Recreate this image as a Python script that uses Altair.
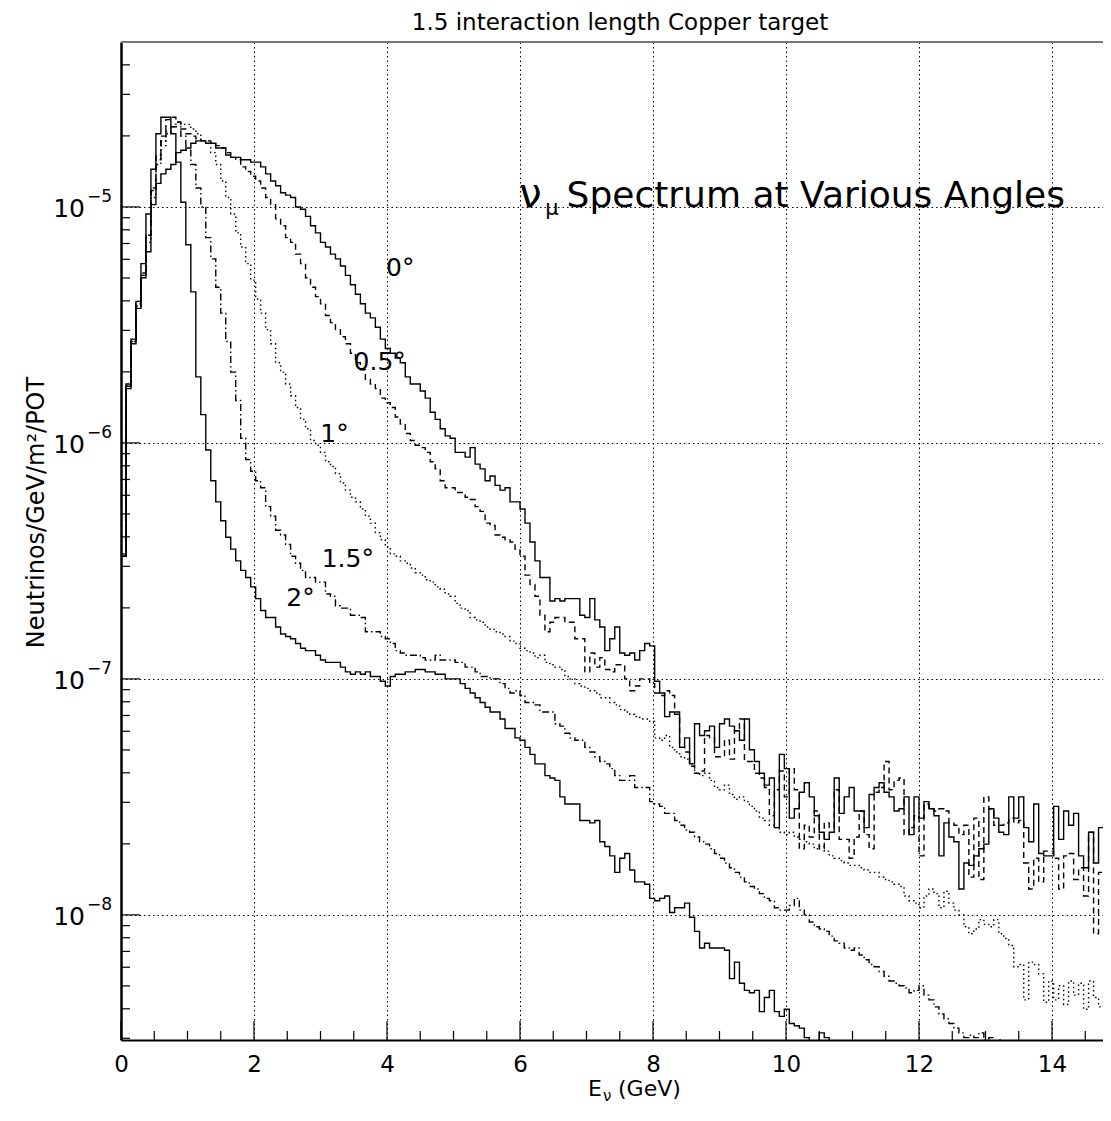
import altair as alt
import pandas as pd

FONT = "DejaVu Sans"
BIN_WIDTH_GEV = 0.075

# log10(neutrinos/GeV/m^2/POT) per 0.075 GeV bin
LOG10_FLUX_0DEG = [
    -6.48, -5.77, -5.58, -5.43, -5.30, -5.19, -4.99, -4.90, -4.86, -4.84,
    -4.82, -4.77, -4.76, -4.75, -4.73, -4.72, -4.72, -4.73, -4.73, -4.75,
    -4.75, -4.78, -4.79, -4.79, -4.80, -4.80, -4.81, -4.81, -4.83, -4.86,
    -4.89, -4.91, -4.94, -4.95, -4.96, -5.00, -5.01, -5.04, -5.08, -5.11,
    -5.15, -5.17, -5.20, -5.22, -5.25, -5.29, -5.33, -5.37, -5.41, -5.45,
    -5.47, -5.51, -5.56, -5.60, -5.62, -5.64, -5.66, -5.72, -5.75, -5.75,
    -5.78, -5.81, -5.87, -5.90, -5.94, -5.97, -5.98, -6.04, -6.04, -6.06,
    -6.02, -6.09, -6.11, -6.16, -6.14, -6.18, -6.20, -6.19, -6.25, -6.25,
    -6.28, -6.34, -6.42, -6.50, -6.57, -6.57, -6.67, -6.66, -6.67, -6.66,
    -6.66, -6.66, -6.73, -6.74, -6.66, -6.75, -6.78, -6.88, -6.83, -6.78,
    -6.89, -6.90, -6.89, -6.92, -6.88, -6.85, -6.86, -7.01, -7.06, -7.16,
    -7.14, -7.15, -7.29, -7.25, -7.36, -7.19, -7.24, -7.22, -7.20, -7.29,
    -7.19, -7.17, -7.20, -7.22, -7.26, -7.17, -7.30, -7.35, -7.40, -7.45,
    -7.42, -7.63, -7.32, -7.38, -7.59, -7.55, -7.48, -7.44, -7.50, -7.58,
    -7.65, -7.68, -7.65, -7.42, -7.57, -7.50, -7.46, -7.56, -7.56, -7.63,
    -7.49, -7.46, -7.44, -7.48, -7.50, -7.56, -7.55, -7.50, -7.66, -7.50,
    -7.59, -7.52, -7.55, -7.58, -7.75, -7.61, -7.67, -7.69, -7.89, -7.78,
    -7.79, -7.75, -7.72, -7.70, -7.55, -7.59, -7.65, -7.66, -7.50, -7.59,
    -7.50, -7.63, -7.69, -7.53, -7.74, -7.75, -7.75, -7.54, -7.68, -7.56,
    -7.62, -7.57, -7.75, -7.80, -7.65, -7.78, -7.63, -7.62, -7.65, -7.60,
]
LOG10_FLUX_05DEG = [
    -6.48, -5.76, -5.57, -5.42, -5.29, -5.12, -4.92, -4.78, -4.70, -4.63,
    -4.62, -4.64, -4.67, -4.69, -4.70, -4.71, -4.72, -4.72, -4.73, -4.74,
    -4.75, -4.77, -4.79, -4.80, -4.83, -4.85, -4.87, -4.89, -4.92, -4.96,
    -4.99, -5.05, -5.08, -5.13, -5.15, -5.20, -5.24, -5.30, -5.34, -5.38,
    -5.41, -5.46, -5.49, -5.52, -5.55, -5.58, -5.62, -5.66, -5.69, -5.73,
    -5.75, -5.77, -5.81, -5.83, -5.85, -5.89, -5.92, -5.96, -5.99, -6.01,
    -6.02, -6.04, -6.08, -6.11, -6.16, -6.19, -6.19, -6.21, -6.21, -6.23,
    -6.24, -6.27, -6.29, -6.34, -6.35, -6.39, -6.40, -6.41, -6.42, -6.45,
    -6.48, -6.56, -6.60, -6.65, -6.73, -6.80, -6.76, -6.74, -6.74, -6.76,
    -6.76, -6.83, -6.83, -6.97, -6.89, -6.95, -6.91, -6.96, -6.97, -6.94,
    -6.94, -7.00, -7.05, -7.03, -7.00, -7.00, -7.02, -7.06, -7.07, -7.05,
    -7.07, -7.14, -7.29, -7.31, -7.37, -7.40, -7.39, -7.24, -7.25, -7.33,
    -7.33, -7.26, -7.34, -7.22, -7.17, -7.35, -7.35, -7.40, -7.42, -7.46,
    -7.58, -7.47, -7.39, -7.50, -7.38, -7.47, -7.72, -7.62, -7.67, -7.56,
    -7.72, -7.61, -7.63, -7.47, -7.68, -7.68, -7.76, -7.67, -7.56, -7.66,
    -7.72, -7.48, -7.46, -7.35, -7.47, -7.43, -7.42, -7.66, -7.63, -7.58,
    -7.75, -7.53, -7.55, -7.56, -7.55, -7.56, -7.61, -7.62, -7.66, -7.62,
    -7.84, -7.59, -7.85, -7.50, -7.55, -7.62, -7.62, -7.61, -7.59, -7.61,
    -7.60, -7.78, -7.89, -7.76, -7.86, -7.73, -7.73, -7.76, -7.89, -7.75,
    -7.74, -7.85, -7.80, -7.92, -7.65, -8.08, -7.82, -7.83, -7.85, -7.80,
]
LOG10_FLUX_1DEG = [
    -6.48, -5.76, -5.57, -5.42, -5.29, -5.15, -4.96, -4.82, -4.74, -4.69,
    -4.66, -4.64, -4.65, -4.65, -4.67, -4.69, -4.72, -4.72, -4.77, -4.82,
    -4.89, -4.96, -5.03, -5.11, -5.17, -5.24, -5.31, -5.39, -5.45, -5.52,
    -5.58, -5.66, -5.70, -5.75, -5.80, -5.85, -5.90, -5.94, -5.99, -6.01,
    -6.04, -6.08, -6.10, -6.13, -6.17, -6.20, -6.23, -6.25, -6.28, -6.31,
    -6.34, -6.38, -6.41, -6.44, -6.47, -6.48, -6.50, -6.51, -6.53, -6.55,
    -6.56, -6.58, -6.59, -6.61, -6.62, -6.64, -6.65, -6.68, -6.70, -6.71,
    -6.74, -6.75, -6.76, -6.78, -6.79, -6.80, -6.81, -6.82, -6.84, -6.85,
    -6.87, -6.88, -6.89, -6.91, -6.90, -6.93, -6.94, -6.95, -6.96, -6.99,
    -7.00, -7.02, -7.03, -7.04, -7.05, -7.06, -7.08, -7.08, -7.10, -7.11,
    -7.13, -7.14, -7.15, -7.16, -7.17, -7.17, -7.18, -7.25, -7.26, -7.24,
    -7.29, -7.31, -7.33, -7.34, -7.36, -7.40, -7.41, -7.40, -7.43, -7.46,
    -7.47, -7.45, -7.49, -7.51, -7.50, -7.52, -7.54, -7.56, -7.59, -7.60,
    -7.62, -7.63, -7.65, -7.66, -7.65, -7.67, -7.68, -7.69, -7.70, -7.72,
    -7.71, -7.73, -7.75, -7.76, -7.77, -7.78, -7.79, -7.79, -7.80, -7.81,
    -7.82, -7.82, -7.84, -7.85, -7.86, -7.87, -7.88, -7.92, -7.94, -7.95,
    -7.97, -7.92, -7.89, -7.91, -7.97, -7.90, -7.95, -7.98, -8.00, -8.05,
    -8.08, -8.06, -8.02, -8.04, -8.05, -8.02, -8.08, -8.10, -8.13, -8.22,
    -8.21, -8.36, -8.20, -8.21, -8.25, -8.37, -8.28, -8.36, -8.30, -8.38,
    -8.28, -8.34, -8.29, -8.40, -8.28, -8.35, -8.39, -8.34, -8.37, -8.36,
]
LOG10_FLUX_15DEG = [
    -6.48, -5.76, -5.57, -5.41, -5.28, -5.12, -4.93, -4.80, -4.72, -4.68,
    -4.66, -4.66, -4.70, -4.76, -4.82, -4.92, -5.00, -5.13, -5.22, -5.34,
    -5.45, -5.57, -5.70, -5.82, -5.98, -6.07, -6.12, -6.16, -6.19, -6.27,
    -6.31, -6.37, -6.39, -6.43, -6.48, -6.51, -6.54, -6.57, -6.57, -6.59,
    -6.59, -6.64, -6.65, -6.69, -6.70, -6.70, -6.73, -6.73, -6.74, -6.80,
    -6.80, -6.80, -6.82, -6.83, -6.85, -6.88, -6.89, -6.90, -6.90, -6.90,
    -6.91, -6.92, -6.92, -6.90, -6.92, -6.92, -6.92, -6.93, -6.93, -6.95,
    -6.95, -6.97, -6.99, -6.99, -7.00, -7.00, -7.02, -7.04, -7.06, -7.05,
    -7.07, -7.10, -7.10, -7.11, -7.14, -7.14, -7.14, -7.19, -7.20, -7.23,
    -7.25, -7.26, -7.26, -7.29, -7.31, -7.33, -7.35, -7.36, -7.38, -7.41,
    -7.43, -7.43, -7.41, -7.46, -7.46, -7.46, -7.52, -7.53, -7.54, -7.57,
    -7.57, -7.60, -7.62, -7.64, -7.65, -7.67, -7.69, -7.70, -7.72, -7.74,
    -7.76, -7.78, -7.80, -7.82, -7.84, -7.86, -7.88, -7.89, -7.91, -7.93,
    -7.94, -7.97, -7.98, -7.98, -7.96, -7.93, -7.98, -8.00, -8.03, -8.05,
    -8.06, -8.07, -8.09, -8.11, -8.12, -8.14, -8.15, -8.14, -8.17, -8.19,
    -8.21, -8.22, -8.24, -8.26, -8.28, -8.29, -8.30, -8.31, -8.33, -8.32,
    -8.30, -8.34, -8.36, -8.39, -8.42, -8.44, -8.46, -8.48, -8.50, -8.52,
    -8.51, -8.52, -8.50, -8.53, -8.52, -8.55, -8.53, -8.56, -8.58, -8.60,
    -8.62, -8.64, -8.63, -8.66, -8.68, -8.70,
]
LOG10_FLUX_2DEG = [
    -6.47, -5.75, -5.56, -5.40, -5.24, -5.03, -4.84, -4.69, -4.62, -4.62,
    -4.69, -4.81, -4.98, -5.16, -5.36, -5.72, -5.88, -6.03, -6.16, -6.25,
    -6.33, -6.40, -6.45, -6.50, -6.54, -6.57, -6.61, -6.66, -6.71, -6.74,
    -6.74, -6.78, -6.81, -6.82, -6.83, -6.85, -6.87, -6.88, -6.88, -6.90,
    -6.92, -6.93, -6.93, -6.93, -6.95, -6.97, -6.98, -6.97, -6.98, -6.97,
    -6.99, -6.99, -7.01, -7.03, -6.99, -6.98, -6.98, -6.97, -6.97, -6.96,
    -6.96, -6.97, -6.97, -6.98, -6.98, -7.00, -7.00, -7.00, -7.02, -7.04,
    -7.06, -7.08, -7.10, -7.12, -7.14, -7.14, -7.17, -7.21, -7.21, -7.25,
    -7.26, -7.29, -7.32, -7.36, -7.36, -7.41, -7.42, -7.43, -7.50, -7.53,
    -7.53, -7.53, -7.60, -7.60, -7.61, -7.60, -7.69, -7.71, -7.75, -7.82,
    -7.76, -7.74, -7.81, -7.86, -7.86, -7.87, -7.93, -7.94, -7.93, -7.92,
    -7.99, -7.97, -7.97, -7.95, -8.01, -8.07, -8.14, -8.12, -8.14, -8.14,
    -8.14, -8.15, -8.27, -8.20, -8.29, -8.32, -8.33, -8.32, -8.41, -8.35,
    -8.32, -8.41, -8.43, -8.40, -8.46, -8.47, -8.48, -8.52, -8.58, -8.58,
    -8.50, -8.52, -8.62, -8.65, -8.70, -8.72,
]

SERIES_NAMES = ["0°", "0.5°", "1°", "1.5°", "2°"]
SERIES_LOGS = [LOG10_FLUX_0DEG, LOG10_FLUX_05DEG, LOG10_FLUX_1DEG,
               LOG10_FLUX_15DEG, LOG10_FLUX_2DEG]
SERIES_DASHES = [None, [6, 4], [1.5, 3], [7, 3, 1.5, 3], None]

# Curve labels placed in data coordinates
LABEL_TEXT = ["0°", "0.5°", "1°", "1.5°", "2°"]
LABEL_E = [4.20, 3.89, 3.21, 3.41, 2.70]
LABEL_FLUX = [5.5e-6, 2.2e-6, 1.09e-6, 3.23e-7, 2.2e-7]

X_MAJOR = [0, 2, 4, 6, 8, 10, 12, 14]
X_MINOR = [0.5, 1, 1.5, 2.5, 3, 3.5, 4.5, 5, 5.5, 6.5, 7, 7.5, 8.5, 9, 9.5,
           10.5, 11, 11.5, 12.5, 13, 13.5, 14.5]
Y_MAJOR = [1e-8, 1e-7, 1e-6, 1e-5]
Y_MAJOR_EXP = ["\u22128", "\u22127", "\u22126", "\u22125"]
Y_MINOR = [3e-9, 4e-9, 5e-9, 6e-9, 7e-9, 8e-9, 9e-9,
           2e-8, 3e-8, 4e-8, 5e-8, 6e-8, 7e-8, 8e-8, 9e-8,
           2e-7, 3e-7, 4e-7, 5e-7, 6e-7, 7e-7, 8e-7, 9e-7,
           2e-6, 3e-6, 4e-6, 5e-6, 6e-6, 7e-6, 8e-6, 9e-6,
           2e-5, 3e-5, 4e-5]

W, H = 982, 998
X_MAX = W / 66.5          # the frame is cut at the right edge of the picture
Y_MIN, Y_MAX = 2.95e-9, 5.0e-5

xscale = alt.Scale(domain=[0, X_MAX], nice=False, zero=False)
yscale = alt.Scale(type="log", domain=[Y_MIN, Y_MAX], nice=False)


def step_frame(logs):
    rows = [{"E": round(i * BIN_WIDTH_GEV, 4), "flux": 10 ** v} for i, v in enumerate(logs)]
    rows.append({"E": round(len(logs) * BIN_WIDTH_GEV, 4), "flux": 10 ** logs[-1]})
    return pd.DataFrame(rows)


grid = dict(grid=True, gridDash=[1.5, 3], gridColor="black", gridOpacity=1, gridWidth=1)

x_axis = alt.Axis(values=X_MAJOR, format="d", title=None, ticks=False, tickSize=0,
                  labelFont=FONT, labelFontSize=23, labelColor="black", labelPadding=13,
                  labelFlush=False, domainColor="black", domainWidth=2, **grid)
y_axis = alt.Axis(values=Y_MAJOR, labels=False, ticks=False, tickSize=0,
                  domainColor="black", domainWidth=2.5,
                  title="Neutrinos/GeV/m²/POT", titleFont=FONT, titleFontSize=24,
                  titleFontWeight="normal", titleColor="black", titleAngle=270,
                  titleX=-85, titleY=470, titleAlign="center", titleBaseline="middle",
                  **grid)


def X(field):
    return alt.X(field, scale=xscale, axis=x_axis)


def Y(field):
    return alt.Y(field, scale=yscale, axis=y_axis)


def single():
    return pd.DataFrame({"v": [0]})


layers = []
for name, logs, dash in zip(SERIES_NAMES, SERIES_LOGS, SERIES_DASHES):
    mark_kw = dict(interpolate="step-after", color="black", strokeWidth=1.4, clip=True)
    if dash:
        mark_kw["strokeDash"] = dash
    layers.append(alt.Chart(step_frame(logs)).mark_line(**mark_kw).encode(
        x=X("E:Q"), y=Y("flux:Q")))

# inward tick marks
layers.append(alt.Chart(pd.DataFrame({"flux": Y_MAJOR})).mark_rule(color="black", strokeWidth=1.2).encode(
    y=Y("flux:Q"), x=alt.value(0), x2=alt.value(19)))
layers.append(alt.Chart(pd.DataFrame({"flux": Y_MINOR})).mark_rule(color="black", strokeWidth=1.2).encode(
    y=Y("flux:Q"), x=alt.value(0), x2=alt.value(9)))
layers.append(alt.Chart(pd.DataFrame({"E": X_MAJOR})).mark_rule(color="black", strokeWidth=1.2).encode(
    x=X("E:Q"), y=alt.value(H), y2=alt.value(H - 19)))
layers.append(alt.Chart(pd.DataFrame({"E": X_MINOR})).mark_rule(color="black", strokeWidth=1.2).encode(
    x=X("E:Q"), y=alt.value(H), y2=alt.value(H - 9)))

# top frame line
layers.append(alt.Chart(single()).mark_rule(color="#777777", strokeWidth=2).encode(
    x=alt.value(0), x2=alt.value(W), y=alt.value(0)))

# y tick labels: "10" with superscript exponent
ylab = pd.DataFrame({"flux": Y_MAJOR, "exp": Y_MAJOR_EXP})
layers.append(alt.Chart(ylab).mark_text(font=FONT, fontSize=25, align="right", baseline="middle",
                                        color="black", dy=2).encode(
    y=Y("flux:Q"), x=alt.value(-36), text=alt.value("10")))
layers.append(alt.Chart(ylab).mark_text(font=FONT, fontSize=17, align="left", baseline="middle",
                                        color="black", dy=-10).encode(
    y=Y("flux:Q"), x=alt.value(-34), text="exp:N"))

# curve labels
lab = pd.DataFrame({"E": LABEL_E, "flux": LABEL_FLUX, "t": LABEL_TEXT})
layers.append(alt.Chart(lab).mark_text(font=FONT, fontSize=25, align="center", baseline="middle",
                                       color="black").encode(
    x=X("E:Q"), y=Y("flux:Q"), text="t:N"))

# "ν_μ Spectrum at Various Angles"
HEAD_TEXT = ["ν", "μ", "Spectrum at Various Angles"]
HEAD_E = [5.99, 6.38, 6.70]
HEAD_FLUX = [1.0e-5, 9.2e-6, 1.0e-5]
HEAD_SIZE = [40, 21, 36]
head = pd.DataFrame({"E": HEAD_E, "flux": HEAD_FLUX, "t": HEAD_TEXT, "s": HEAD_SIZE})
layers.append(alt.Chart(head).mark_text(font=FONT, align="left", baseline="alphabetic",
                                        color="black").encode(
    x=X("E:Q"), y=Y("flux:Q"),
    text="t:N", size=alt.Size("s:Q", scale=None, legend=None)))

# page title
layers.append(alt.Chart(single()).mark_text(
    font=FONT, fontSize=23, align="center", baseline="alphabetic", color="black").encode(
    x=alt.value(499), y=alt.value(-12), text=alt.value("1.5 interaction length Copper target")))

# x axis title "E_ν (GeV)"
layers.append(alt.Chart(single()).mark_text(
    font=FONT, fontSize=22, align="left", baseline="alphabetic", color="black").encode(
    x=alt.value(467), y=alt.value(1054), text=alt.value("E")))
layers.append(alt.Chart(single()).mark_text(
    font=FONT, fontSize=15, align="left", baseline="alphabetic", color="black").encode(
    x=alt.value(482), y=alt.value(1059), text=alt.value("ν")))
layers.append(alt.Chart(single()).mark_text(
    font=FONT, fontSize=22, align="left", baseline="alphabetic", color="black").encode(
    x=alt.value(497), y=alt.value(1054), text=alt.value("(GeV)")))

chart = alt.layer(*layers).properties(
    width=W, height=H,
    autosize=alt.AutoSizeParams(type="none"),
    padding={"left": 113, "top": 34, "right": 0, "bottom": 64},
).configure_view(stroke=None).configure(background="white")

chart.save("out.html", embed_options={"renderer": "svg", "actions": False})
